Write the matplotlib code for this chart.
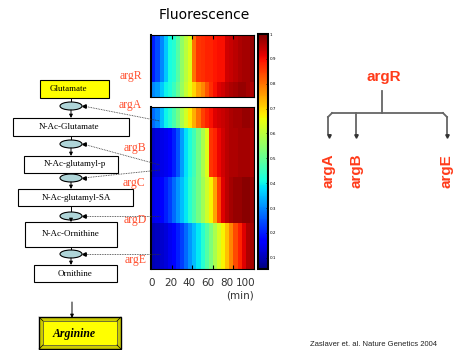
import numpy as np
import matplotlib
matplotlib.use("Agg")
import matplotlib.pyplot as plt
from matplotlib.patches import Rectangle, Ellipse
from matplotlib.colors import Normalize

# ---------------- data ----------------
time_edges = list(range(0, 101, 4))  # minutes, 25 columns

argR_row1 = [0.20, 0.24, 0.30, 0.36, 0.41, 0.43, 0.48, 0.55, 0.60, 0.64, 0.80, 0.86, 0.87,
             0.88, 0.88, 0.89, 0.90, 0.90, 0.93, 0.94, 0.95, 0.96, 0.97, 0.97, 0.98]
argR_row2 = [0.30, 0.32, 0.36, 0.40, 0.42, 0.45, 0.50, 0.56, 0.61, 0.65, 0.70, 0.75, 0.78,
             0.83, 0.87, 0.90, 0.92, 0.93, 0.95, 0.96, 0.97, 0.98, 0.98, 0.97, 0.96]
argA_row = [0.27, 0.30, 0.35, 0.40, 0.43, 0.47, 0.52, 0.58, 0.63, 0.68, 0.74, 0.80, 0.85,
            0.88, 0.90, 0.92, 0.93, 0.94, 0.95, 0.96, 0.97, 0.97, 0.98, 0.98, 0.97]
argB_row = [0.12, 0.13, 0.14, 0.15, 0.17, 0.20, 0.25, 0.32, 0.38, 0.42, 0.46, 0.52, 0.58,
            0.64, 0.86, 0.88, 0.91, 0.93, 0.95, 0.96, 0.96, 0.97, 0.97, 0.97, 0.96]
argC_row = [0.14, 0.15, 0.17, 0.20, 0.23, 0.27, 0.31, 0.35, 0.39, 0.43, 0.47, 0.52, 0.57,
            0.62, 0.67, 0.75, 0.85, 0.92, 0.95, 0.97, 0.98, 0.98, 0.99, 0.99, 0.98]
argDE_row = [0.10, 0.11, 0.12, 0.13, 0.15, 0.17, 0.20, 0.23, 0.27, 0.31, 0.35, 0.39, 0.43,
             0.48, 0.53, 0.58, 0.63, 0.67, 0.72, 0.78, 0.84, 0.88, 0.92, 0.96, 0.97]

top_rows = [argR_row1, argR_row2]
bottom_rows = [argA_row, argB_row, argC_row, argDE_row]

cbar_ticks = [0.1, 0.2, 0.3, 0.4, 0.5, 0.6, 0.7, 0.8, 0.9, 1.0]
cbar_labels = ["0.1", "0.2", "0.3", "0.4", "0.5", "0.6", "0.7", "0.8", "0.9", "1"]
time_labels = [0, 20, 40, 60, 80, 100]

pathway = ["Glutamate", "N-Ac-Glutamate", "N-Ac-glutamyl-p", "N-Ac-glutamyl-SA",
           "N-Ac-Ornithine", "Ornithine"]
genes = ["argA", "argB", "argC", "argD", "argE"]
tree_targets = ["argA", "argB", "argE"]

# ---------------- layout ----------------
W, H = 458, 350
fig = plt.figure(figsize=(W / 100, H / 100), dpi=100)


def rect(x0, y0, x1, y1):
    return [x0 / W, 1 - y1 / H, (x1 - x0) / W, (y1 - y0) / H]


cmap = plt.get_cmap("jet")
norm = Normalize(vmin=0.055, vmax=1.0)

top_heights = [47, 15]
bot_heights = [21, 49, 46, 46]


def heat(ax, rows, heights, ticks_top, ticks_bottom):
    yedges = np.concatenate([[0], np.cumsum(heights)])
    ax.pcolormesh(time_edges, yedges, np.array(rows), cmap=cmap, norm=norm)
    ax.set_xlim(0, 100)
    ax.set_ylim(yedges[-1], 0)
    ax.set_yticks([])
    ax.set_xticks([20, 40, 60, 80])
    ax.tick_params(axis="x", direction="in", length=3, width=0.8, labelbottom=False,
                   top=ticks_top, bottom=ticks_bottom, color="black")
    for s in ax.spines.values():
        s.set_linewidth(0.8)
    ax.spines["left"].set_linewidth(1.5)


ax_top = fig.add_axes(rect(151.3, 35, 254, 97))
heat(ax_top, top_rows, top_heights, True, False)
ax_bot = fig.add_axes(rect(151.3, 107, 254, 269))
heat(ax_bot, bottom_rows, bot_heights, False, True)

cax = fig.add_axes(rect(258.3, 34, 268.3, 269))
sm = matplotlib.cm.ScalarMappable(norm=norm, cmap=cmap)
cb = fig.colorbar(sm, cax=cax, ticks=cbar_ticks)
cb.ax.set_yticklabels(cbar_labels, fontsize=3)
cb.ax.tick_params(direction="in", length=1.5, width=0.5, pad=1)
cb.outline.set_linewidth(1.5)

# overlay for diagram
ov = fig.add_axes([0, 0, 1, 1])
ov.set_xlim(0, W)
ov.set_ylim(H, 0)
ov.axis("off")
ov.set_zorder(10)
ov.patch.set_alpha(0)

ov.text(204, 15, "Fluorescence", ha="center", va="center", fontsize=10, family="DejaVu Sans")

for v in time_labels:
    ov.text(151.5 + v * 0.945, 283, str(v), ha="center", va="center", fontsize=7.5, color="#333333")
ov.text(240, 295, "(min)", ha="center", va="center", fontsize=7.5, color="#333333")

# pathway boxes
boxes = [(40, 80, 109, 98), (13, 118, 129, 136), (24, 156, 118, 173),
         (18, 189, 133, 206), (25, 222, 117, 247), (34, 265, 117, 282)]
text_x = [68, 69, 75, 76, 71, 75]
ell_y = [106, 144, 178, 216, 254]
ex = 71
for i, (name, (x0, y0, x1, y1)) in enumerate(zip(pathway, boxes)):
    fc = "#ffff00" if i == 0 else "white"
    ov.add_patch(Rectangle((x0, y0), x1 - x0, y1 - y0, fc=fc, ec="black", lw=0.8))
    ov.text(text_x[i], (y0 + y1) / 2, name, ha="center", va="center", fontsize=6.5,
            family="Liberation Serif")
for i, y in enumerate(ell_y):
    ov.add_patch(Ellipse((ex, y), 22, 8, fc="#afd5d8", ec="black", lw=0.8, zorder=3))
    ov.plot([ex, ex], [boxes[i][3], y - 4], color="black", lw=0.7)
    ov.annotate("", xy=(ex, boxes[i + 1][1]), xytext=(ex, y + 4),
                arrowprops=dict(arrowstyle="-|>", color="black", lw=0.7, mutation_scale=5,
                                shrinkA=0, shrinkB=0))

# arrow to arginine
ov.annotate("", xy=(72, 318), xytext=(72, 302),
            arrowprops=dict(arrowstyle="-|>", color="black", lw=0.7, mutation_scale=5,
                            shrinkA=0, shrinkB=0))
ov.add_patch(Rectangle((39, 317), 82, 32, fc="#cccc00", ec="black", lw=1.0))
ov.add_patch(Rectangle((43, 321), 74, 24, fc="#ffff00", ec="#444444", lw=0.5))
for (a, b), (c, d) in [((39, 317), (43, 321)), ((121, 317), (117, 321)),
                       ((39, 349), (43, 345)), ((121, 349), (117, 345))]:
    ov.plot([a, c], [b, d], color="black", lw=0.5)
ov.text(74, 334, "Arginine", ha="center", va="center", fontsize=8.5, fontweight="bold",
        fontstyle="italic", family="Liberation Serif")

# dotted links from enzymes to heatmap
gene_color = "#ff5030"
link_end = [(160, 121), (160, 165), (160, 170), (160, 216), (160, 254)]
gene_pos = [(130, 105), (135, 148), (134, 183), (135, 220), (136, 260)]
for y, (xe, ye), g, (gx, gy) in zip(ell_y, link_end, genes, gene_pos):
    ov.plot([ex + 12, xe], [y, ye], color="#333333", lw=0.6, ls=(0, (1, 1)))
    ov.plot([ex + 13], [y], marker="<", ms=2.5, color="black")
    ov.text(gx, gy, g, ha="center", va="center", fontsize=8.5, color=gene_color,
            family="Liberation Serif")
ov.text(131, 76, "argR", ha="center", va="center", fontsize=8.5, color=gene_color,
        family="Liberation Serif")

# regulation tree
tree_color = "#ff3b1a"
line_c = "#666666"
ov.text(384, 77, "argR", ha="center", va="center", fontsize=11, fontweight="bold",
        color=tree_color, family="Liberation Sans")
ov.plot([382, 382], [91, 113], color=line_c, lw=1.3)
ov.plot([332, 443], [113, 113], color=line_c, lw=1.3)
ov.plot([328, 328], [117, 134], color=line_c, lw=1.3)
ov.plot([447, 447], [117, 134], color=line_c, lw=1.3)
ov.plot([356, 356], [113, 134], color=line_c, lw=1.3)
ov.plot([328, 332], [117, 113], color=line_c, lw=1.3)
ov.plot([443, 447], [113, 117], color=line_c, lw=1.3)
tree_x = [329, 356, 447]
for tx, g in zip(tree_x, tree_targets):
    ov.plot([tx], [136], marker="v", ms=2.5, color="#333333")
    ov.text(tx, 171, g, ha="center", va="center", rotation=90, fontsize=11,
            fontweight="bold", color=tree_color, family="Liberation Sans")

ov.text(374, 348, "Zaslaver et. al. Nature Genetics 2004", ha="center", va="bottom",
        fontsize=5.5, color="#222222", family="Liberation Sans")

fig.savefig("out.png", dpi=100)
